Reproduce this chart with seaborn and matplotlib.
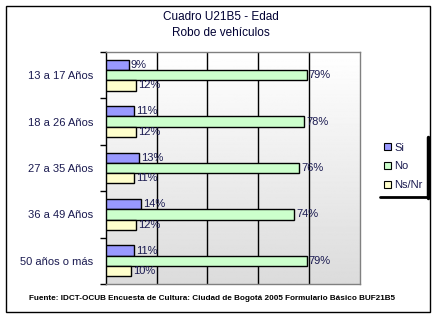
import numpy as np
import pandas as pd
import matplotlib
matplotlib.use("Agg")
import matplotlib.pyplot as plt
from matplotlib.lines import Line2D
from matplotlib.patches import Rectangle
import seaborn as sns

categories = ["13 a 17 Años", "18 a 26 Años", "27 a 35 Años", "36 a 49 Años", "50 años o más"]
series = ["Si", "No", "Ns/Nr"]
si = [9, 11, 13, 14, 11]
no = [79, 78, 76, 74, 79]
nsnr = [12, 12, 11, 12, 10]
colors = ["#9999FF", "#CCFFCC", "#FFFFCC"]

title = "Cuadro U21B5 - Edad\nRobo de vehículos"
source = "Fuente: IDCT-OCUB Encuesta de Cultura: Ciudad de Bogotá 2005 Formulario Básico BUF21B5"

rows = []
for name, vals in zip(series, [si, no, nsnr]):
    for c, v in zip(categories, vals):
        rows.append({"grupo": c, "serie": name, "valor": v})
df = pd.DataFrame(rows)

sns.set_theme(style="white")
plt.rcParams["font.family"] = ["Liberation Sans", "DejaVu Sans"]

W, H = 436, 318
fig = plt.figure(figsize=(W / 100, H / 100), dpi=100)
fig.patch.set_facecolor("white")

# outer frame
fig.add_artist(Rectangle((5.5 / W, 1 - 312 / H), (429.5 - 5.5) / W, (312 - 5.5) / H,
                         transform=fig.transFigure, fill=False, edgecolor="black", linewidth=1))

x0, x1, y0, y1 = 105.7, 360, 52, 284
ax = fig.add_axes([x0 / W, 1 - y1 / H, (x1 - x0) / W, (y1 - y0) / H])

# gradient background
grad = np.linspace(1.0, 0.86, 256).reshape(-1, 1)
ax.imshow(grad, cmap="gray", vmin=0, vmax=1, aspect="auto",
          extent=[0, 100, 4.5, -0.5], zorder=0)

sns.barplot(data=df, y="grupo", x="valor", hue="serie", orient="h",
            palette=colors, edgecolor="black", linewidth=1, width=0.66,
            saturation=1, ax=ax, zorder=3, legend=False)

ax.set_xlim(0, 100)
ax.set_ylim(4.5, -0.5)
for g in [20, 40, 60, 80]:
    ax.axvline(g, color="black", linewidth=1, zorder=1)

txtcol = "#1a1a50"
for cont in ax.containers:
    ax.bar_label(cont, labels=[f"{int(v)}%" for v in cont.datavalues],
                 padding=1.5, fontsize=8, color=txtcol)

ax.set_xlabel("")
ax.set_ylabel("")
ax.set_xticks([20, 40, 60, 80], minor=False)
ax.set_xticklabels([])
ax.tick_params(axis="x", length=0)
ax.set_yticks(range(len(categories)))
ax.set_yticklabels(categories, fontsize=8, color=txtcol)
ax.set_yticks(np.arange(-0.5, 5, 1), minor=True)
ax.tick_params(axis="y", which="major", length=0, pad=9)
ax.tick_params(axis="y", which="minor", length=4, width=1, color="black", direction="out", left=True)
for s in ["top", "right", "bottom"]:
    ax.spines[s].set_color("#808080")
    ax.spines[s].set_linewidth(1)
ax.spines["left"].set_color("black")
ax.spines["left"].set_linewidth(1)
ax.grid(False)

fig.text(221 / W, 1 - 25 / H, title, ha="center", va="center", fontsize=8.5,
         color="#000033", linespacing=1.35)
fig.text(212 / W, 1 - 298 / H, source, ha="center", va="center", fontsize=5.85,
         color="black", fontweight="bold")

# legend
handles = [Rectangle((0, 0), 1, 1, facecolor=c, edgecolor="black", linewidth=0.8) for c in colors]
fig.legend(handles, series, loc="upper left", bbox_to_anchor=(384 / W, 1 - 142.5 / H),
           frameon=False, fontsize=8, handlelength=0.6, handleheight=0.6,
           handletextpad=0.3, labelspacing=0.8, borderaxespad=0, borderpad=0,
           labelcolor=txtcol)
fig.add_artist(Line2D([380 / W, 428 / W], [1 - 196.5 / H, 1 - 196.5 / H],
                      transform=fig.transFigure, color="black", linewidth=2))
fig.add_artist(Line2D([427.5 / W, 427.5 / W], [1 - 137 / H, 1 - 197.5 / H],
                      transform=fig.transFigure, color="black", linewidth=2.5))

fig.savefig("out.png", dpi=100)
